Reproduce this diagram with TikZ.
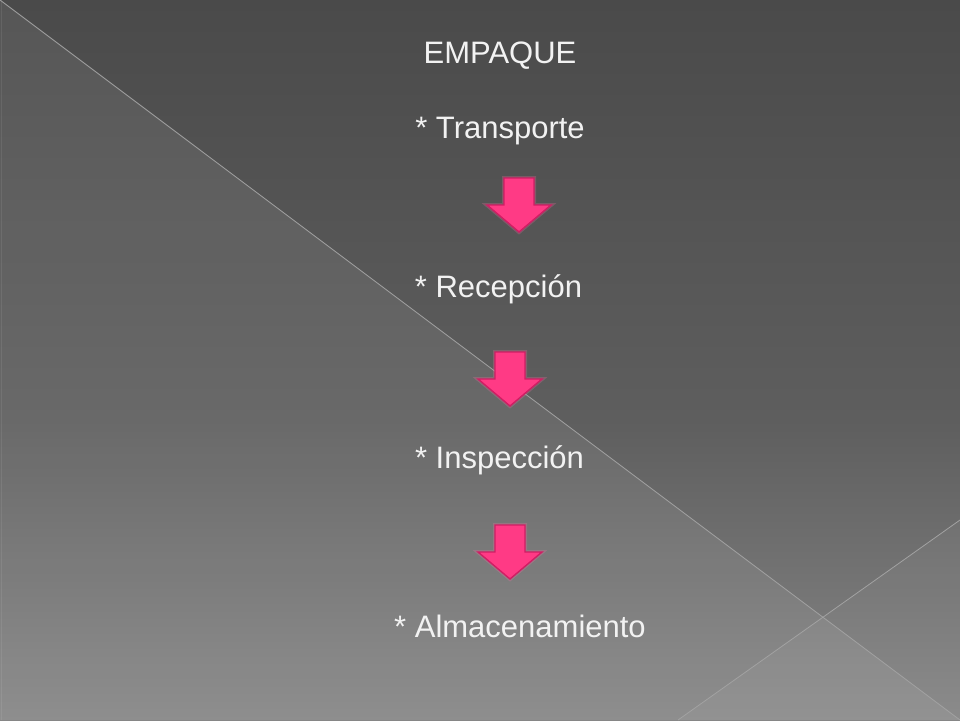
\documentclass[tikz,border=0pt]{standalone}
\usepackage{fontspec}
\setmainfont{Liberation Sans}
\definecolor{bgtop}{HTML}{4A4A4A}
\definecolor{bgmid}{HTML}{5E5E5E}
\definecolor{bgbot}{HTML}{868686}
\pgfdeclareverticalshading{bgshade}{100bp}{
  color(0bp)=(bgbot); color(25bp)=(bgbot); color(45.83bp)=(bgmid); color(75bp)=(bgtop); color(100bp)=(bgtop)}
\definecolor{arrowfill}{HTML}{FF3A85}
\definecolor{arrowline}{HTML}{D01E64}
\definecolor{glowpink}{HTML}{FF6FA5}
\definecolor{txt}{HTML}{F2F2F2}
\definecolor{deco}{HTML}{A2A2A2}
\tikzset{
  label text/.style={text=txt, font=\fontsize{31}{37}\selectfont, anchor=base, inner sep=0pt},
  pinkarrow/.style={fill=arrowfill, draw=arrowline, line width=1.4pt, line join=miter,
     preaction={draw=glowpink, line width=4pt, opacity=0.25}},
  decoline/.style={draw=deco, line width=0.8pt}
}
\begin{document}
\begin{tikzpicture}[x=1pt,y=1pt]
\useasboundingbox (0,0) rectangle (960,-720);
% background
\shade[shading=bgshade] (0,0) rectangle (960,-720);
\fill[white, opacity=0.07] (0,0) -- (960,-720) -- (0,-720) -- cycle;
\fill[white, opacity=0.045] (678,-720) -- (960,-520) -- (960,-720) -- cycle;
\draw[white, opacity=0.08, line width=1pt] (1.5,0) -- (1.5,-720);
\draw[decoline] (0,0) -- (960,-720);
\draw[decoline] (960,-520) -- (678,-720);
% texts
\node[label text] (title) at (500,-63) {EMPAQUE};
\node[label text] (t1) at (500,-138) {* Transporte};
\node[label text] (t2) at (498.5,-297) {* Recepción};
\node[label text] (t3) at (499.5,-468) {* Inspección};
\node[label text] (t4) at (520,-637) {* Almacenamiento};
% arrows
\foreach \cx/\ty [count=\i] in {519/178, 510/352, 510/525}{
  \draw[pinkarrow] (\cx-15,-\ty) -- (\cx+15,-\ty) -- (\cx+15,-\ty-27) -- (\cx+32,-\ty-27)
     -- (\cx,-\ty-54) -- (\cx-32,-\ty-27) -- (\cx-15,-\ty-27) -- cycle;
}
\end{tikzpicture}
\end{document}
